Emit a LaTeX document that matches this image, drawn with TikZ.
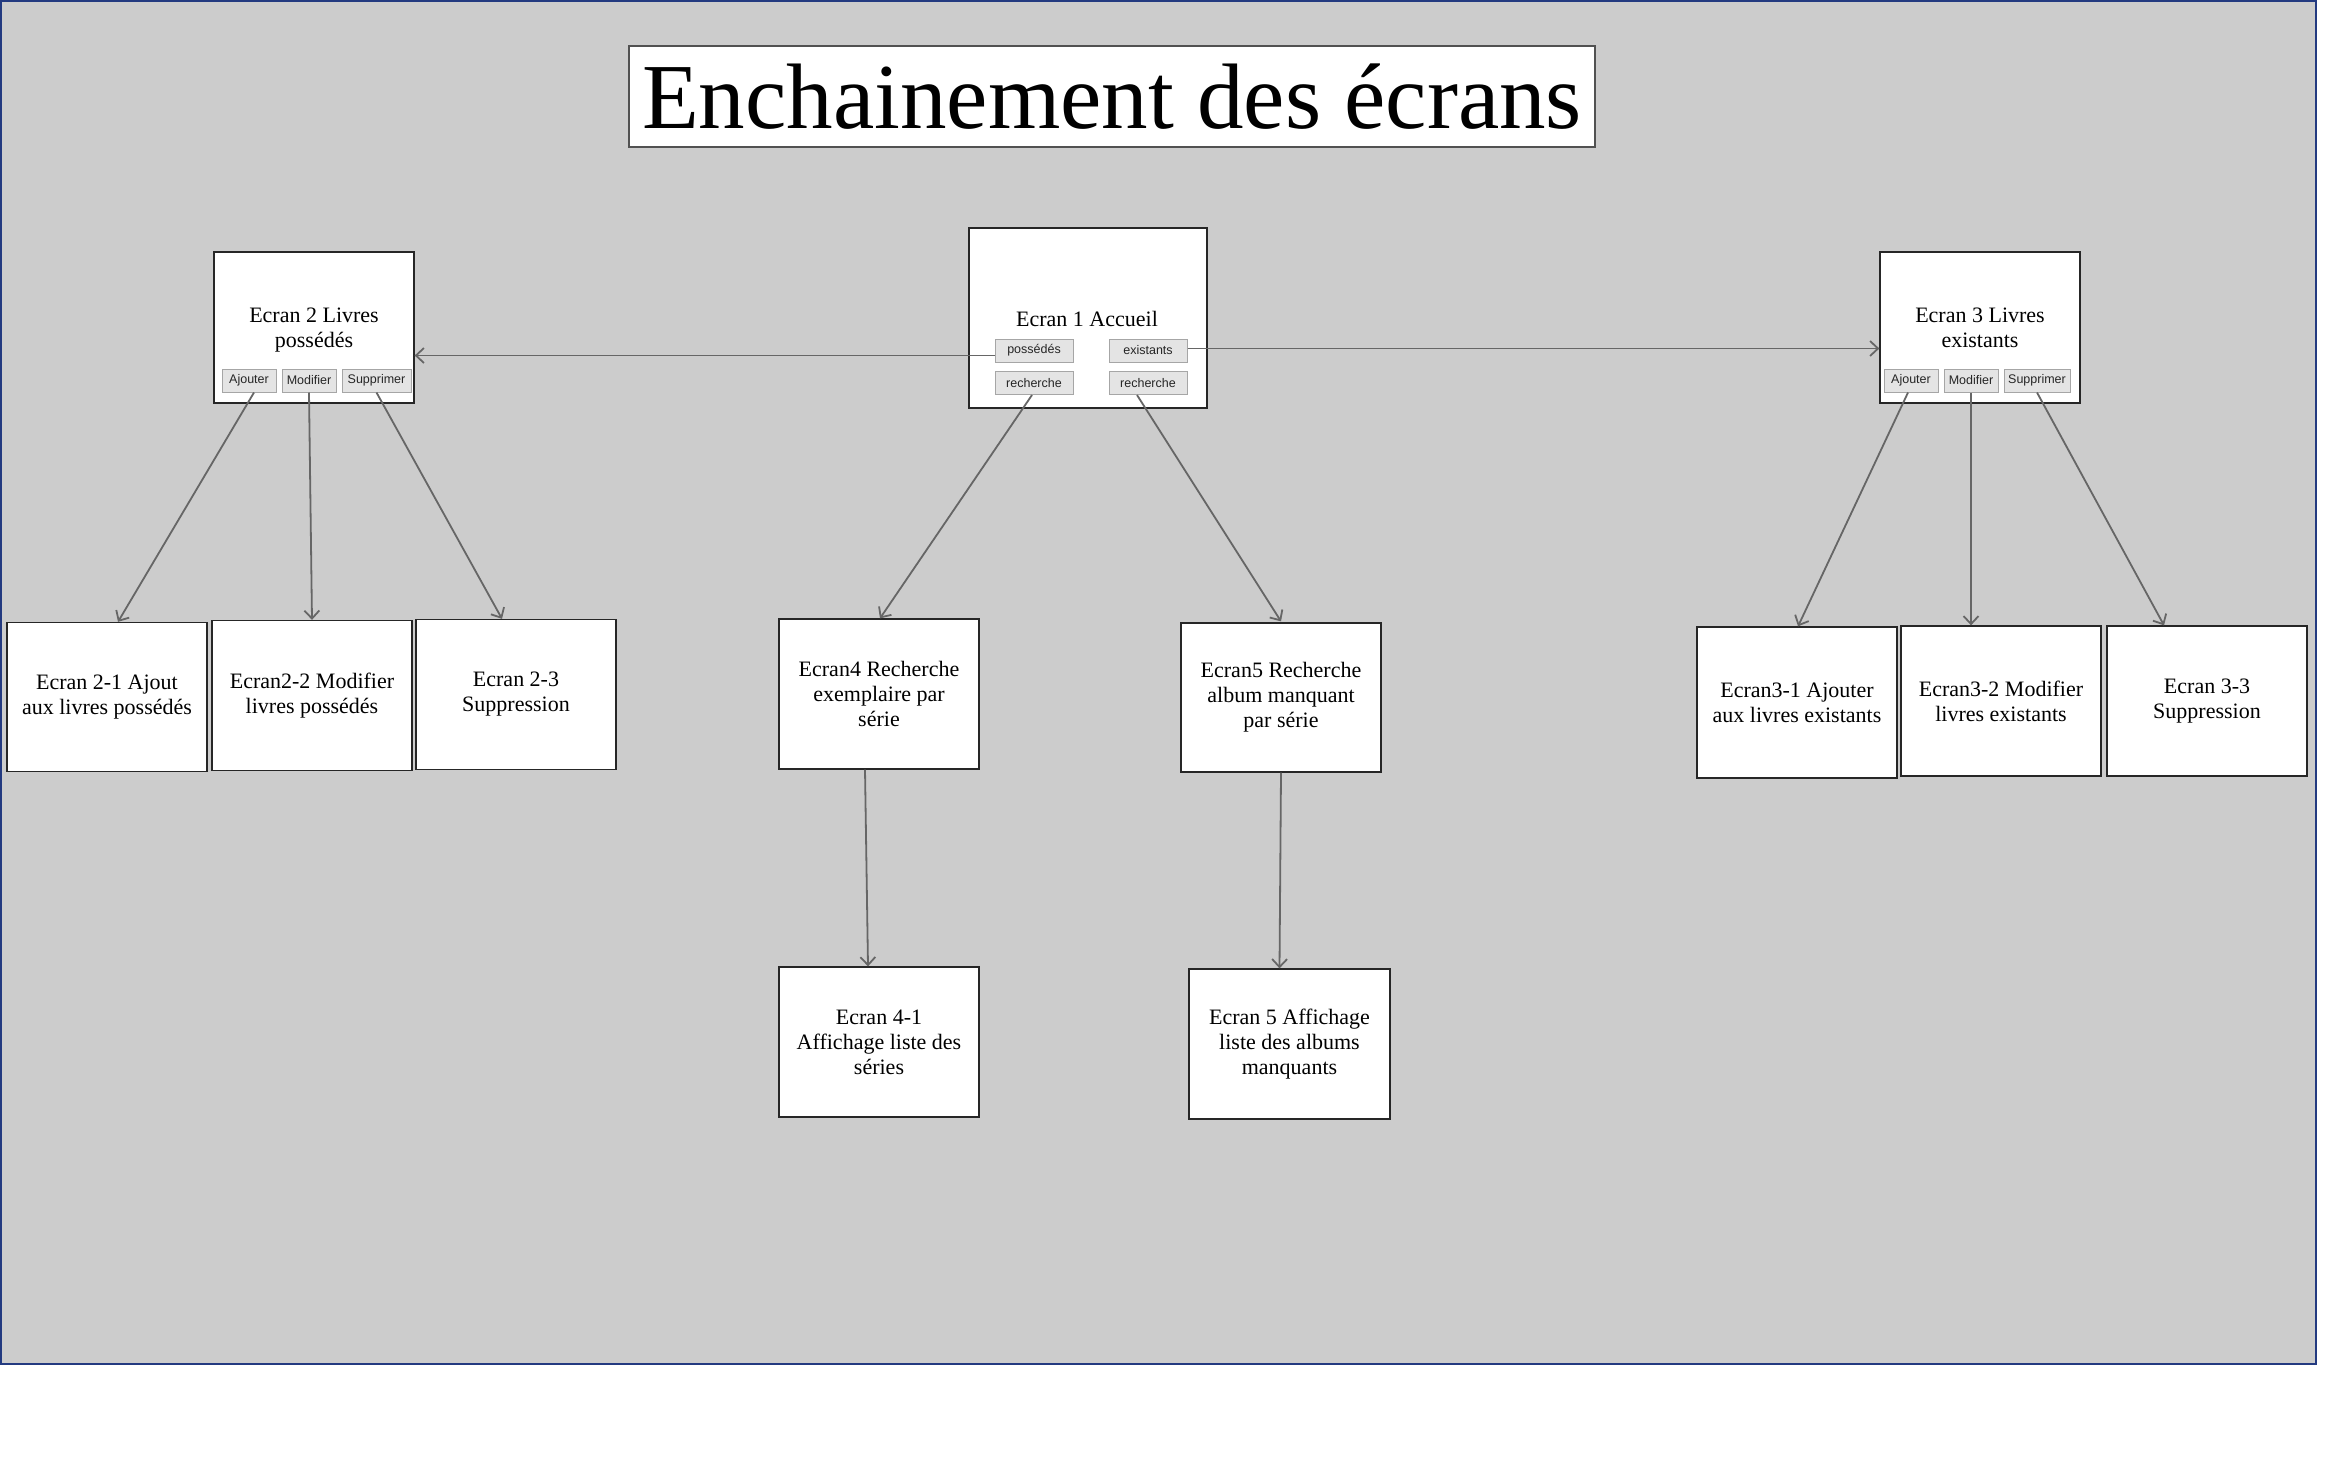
\documentclass[tikz,border=0pt]{standalone}
\usepackage{fontspec}
\setmainfont{Liberation Serif}
\newfontfamily\btnsans{Liberation Sans}
\usetikzlibrary{arrows.meta}
\definecolor{bggrey}{HTML}{CCCCCC}
\definecolor{frameblue}{RGB}{35,58,128}
\definecolor{conngrey}{HTML}{666666}
\definecolor{btnfill}{HTML}{E4E4E4}
\definecolor{btnline}{HTML}{A6A6A6}
\definecolor{boxline}{HTML}{262626}
\begin{document}
\begin{tikzpicture}[x=1pt,y=-1pt,
  screen/.style={draw=boxline, line width=1.3pt, fill=white, inner sep=0pt,
    minimum width=200pt, minimum height=150pt, align=center,
    font=\fontsize{22}{25}\selectfont},
  scrtext/.style={inner sep=0pt, align=center, font=\fontsize{22}{24.5}\selectfont},
  button/.style={draw=btnline, line width=1pt, fill=btnfill, minimum height=23pt,
    inner sep=0pt, font=\btnsans\fontsize{12.5}{14}\selectfont, text=black!85},
  conn/.style={draw=conngrey, line width=1.8pt,
    -{Straight Barb[length=8pt,width=15pt,line width=1.8pt]}}
]
\useasboundingbox (0,0) rectangle (2347,1478);
\fill[white] (0,0) rectangle (2347,1478);
\fill[bggrey] (0,0) rectangle (2317,1365);
\draw[frameblue, line width=2pt] (1,1) rectangle (2316,1364);

% title
\node[draw=boxline!80, line width=1.3pt, fill=white, minimum width=966pt,
  minimum height=101pt, inner sep=0pt, font=\fontsize{93}{100}\selectfont]
  (title) at (1112,96.5) {Enchainement des écrans};

% Ecran 1
\node[screen, minimum width=238pt, minimum height=180pt] (e1) at (1088,318) {};
\node[scrtext, anchor=base] (t1) at (1087,326) {Ecran 1 Accueil};
\node[button, minimum width=78pt] (bpos) at (1034,350.5) {possédés};
\node[button, minimum width=78pt] (bexi) at (1148,350.5) {existants};
\node[button, minimum width=78pt] (brl) at (1034,383) {recherche};
\node[button, minimum width=78pt] (brr) at (1148,383) {recherche};

% Ecran 2
\node[screen, minimum height=151pt] (e2) at (314,327.5) {};
\node[scrtext, anchor=north] (t2) at (314,308) {Ecran 2 Livres\\possédés};
\node[button, minimum width=54pt] (a2) at (249,380.5) {Ajouter};
\node[button, minimum width=54pt] (m2) at (309,380.5) {Modifier};
\node[button, minimum width=69pt] (s2) at (376.5,380.5) {Supprimer};

% Ecran 3
\node[screen, minimum height=151pt] (e3) at (1980,327.5) {};
\node[scrtext, anchor=north] (t3) at (1980,308) {Ecran 3 Livres\\existants};
\node[button, minimum width=54pt] (a3) at (1911,380.5) {Ajouter};
\node[button, minimum width=54pt] (m3) at (1971,380.5) {Modifier};
\node[button, minimum width=66pt] (s3) at (2037,380.5) {Supprimer};

% bottom screens
\node[screen, minimum height=149pt] (e21) at (107,697) {Ecran 2-1 Ajout\\aux livres possédés};
\node[screen] (e22) at (312,695.5) {Ecran2-2 Modifier\\livres possédés};
\node[screen] (e23) at (516,694.5) {Ecran 2-3\\Suppression};
\node[screen] (e4) at (879,694) {Ecran4 Recherche\\exemplaire par\\série};
\node[screen, minimum height=149pt] (e5) at (1281,697.5) {Ecran5 Recherche\\album manquant\\par série};
\node[screen] (e41) at (879,1042) {Ecran 4-1\\Affichage liste des\\séries};
\node[screen, minimum width=201pt] (e51) at (1289.5,1044) {Ecran 5 Affichage\\liste des albums\\manquants};
\node[screen, minimum height=151pt] (e31) at (1797,702.5) {Ecran3-1 Ajouter\\aux livres existants};
\node[screen] (e32) at (2001,701) {Ecran3-2 Modifier\\livres existants};
\node[screen] (e33) at (2207,701) {Ecran 3-3\\Suppression};

% connectors
\draw[conn] ([yshift=-5pt]bpos.west) -- ([yshift=-5pt]bpos.west -| e2.east);
\draw[conn] ([yshift=2pt]bexi.east) -- ([yshift=2pt]bexi.east -| e3.west);
\draw[conn] ([xshift=-2pt]brl.south) -- ([xshift=1pt]e4.north);
\draw[conn] ([xshift=-11pt]brr.south) -- ([yshift=1pt]e5.north);
\draw[conn] ([xshift=-14pt]e4.south) -- ([xshift=-11pt]e41.north);
\draw[conn] ([xshift=0pt]e5.south) -- ([xshift=-10pt]e51.north);
\draw[conn] ([xshift=5pt]a2.south) -- ([xshift=11pt]e21.north);
\draw[conn] (m2.south) -- (e22.north);
\draw[conn] (s2.south) -- ([xshift=-14pt]e23.north);
\draw[conn] ([xshift=-3pt]a3.south) -- ([xshift=1pt]e31.north);
\draw[conn] (m3.south) -- ([xshift=-30pt]e32.north);
\draw[conn] (s3.south) -- ([xshift=-43pt]e33.north);
\end{tikzpicture}
\end{document}
